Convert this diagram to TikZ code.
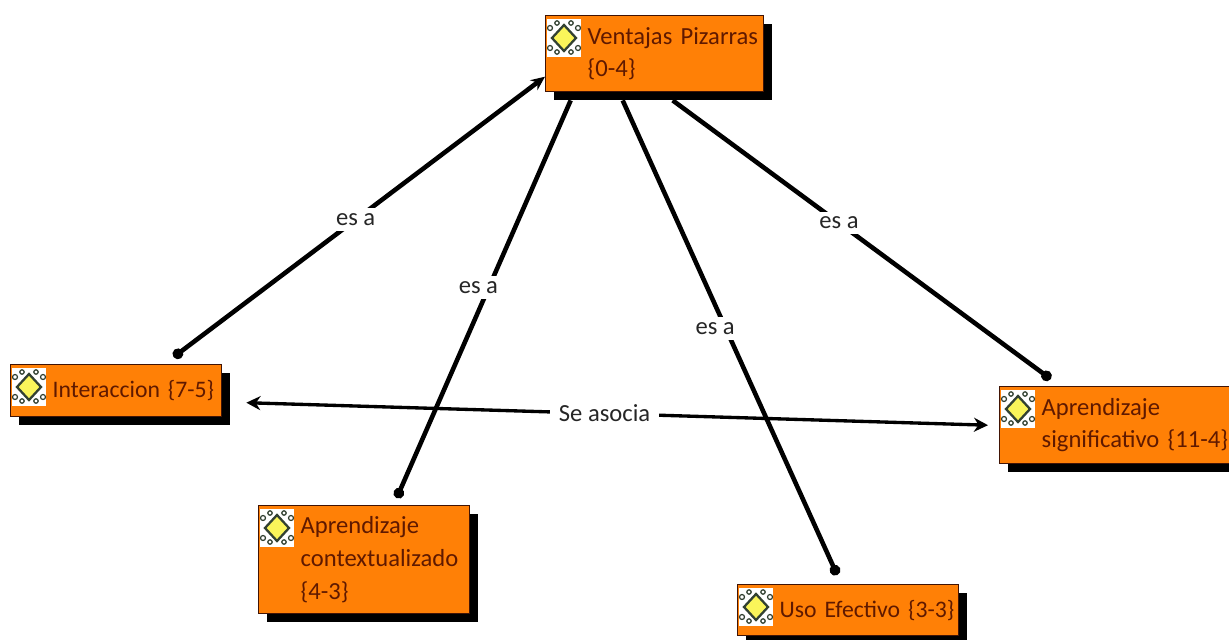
\documentclass[tikz,border=0pt]{standalone}
\usepackage{xcolor}
\usepackage{fontspec}
\setmainfont{Carlito}
\usetikzlibrary{arrows.meta, shadows}
\definecolor{naranja}{RGB}{255, 128, 6}
\definecolor{marron}{RGB}{65, 20, 5}
\definecolor{letra}{RGB}{95, 25, 0}
\definecolor{amarillo}{RGB}{250, 245, 90}
\definecolor{oscuro}{RGB}{50, 65, 50}

\begin{document}
\begin{tikzpicture}[
    x=0.02cm, y=0.02cm,
    concepto/.style={rectangle, draw=marron, line width=0.8pt, fill=naranja, anchor=north west, align=left, inner xsep=0pt, inner ysep=0pt, text=letra, font=\fontsize{14}{18.6}\selectfont, execute at begin node={\leftskip=0.84cm}, drop shadow={shadow xshift=0.16cm, shadow yshift=-0.16cm, fill=black, opacity=1}},
    enlace/.style={{Circle[length=6pt]}-, line width=2.6pt},
    flecha/.style={{Circle[length=6pt]}-{Stealth[length=8pt, width=7pt]}, line width=2.6pt},
    asocia/.style={{Stealth[length=8pt, width=8pt]}-{Stealth[length=8pt, width=8pt]}, line width=1.9pt},
    rotulo/.style={fill=white, inner xsep=3pt, inner ysep=3pt, text=black!85, font=\fontsize{14}{16}\selectfont},
    icono/.pic={
        \fill[white] (2,-4) rectangle (36,-42);
        \draw[oscuro, line width=0.7pt] (5,-13) circle (2.5) (33,-13) circle (2.5) (5,-33) circle (2.5) (33,-33) circle (2.5);
        \draw[oscuro, line width=0.7pt] (12,-8) circle (2.2) (26,-8) circle (2.2) (12,-37) circle (2.2) (26,-37) circle (2.2);
        \draw[oscuro, line width=1.3pt, fill=amarillo] (19,-10) -- (31,-23) -- (19,-36) -- (7,-23) -- cycle;
    }
]
    \useasboundingbox (0,0) rectangle (1229,-639);
    \clip (0,0) rectangle (1229,-639);

    \node[concepto, text width=4.36cm, minimum height=1.52cm] (ventajas) at (545,-15) {Ventajas Pizarras\\\{0-4\}};
    \node[concepto, text width=4.22cm, minimum height=1.04cm, font=\fontsize{13.5}{18.6}\selectfont] (interaccion) at (10,-364) {Interaccion \{7-5\}};
    \node[concepto, text width=4.72cm, minimum height=1.54cm] (significativo) at (999,-386) {Aprendizaje\\significativo \{11-4\}};
    \node[concepto, text width=4.22cm, minimum height=2.16cm] (contextualizado) at (258,-505) {Aprendizaje\\contextualizado\\\{4-3\}};
    \node[concepto, text width=4.42cm, minimum height=1.02cm, font=\fontsize{13.5}{18.6}\selectfont] (uso) at (737,-584) {Uso Efectivo \{3-3\}};

    \pic at (ventajas.north west) {icono};
    \pic at (interaccion.north west) {icono};
    \pic at (significativo.north west) {icono};
    \pic at (contextualizado.north west) {icono};
    \pic at (uso.north west) {icono};

    \draw[flecha] ([shift={(57.5,7)}]interaccion.north) -- node[rotulo, pos=.49] (esa1) {es a} ([shift={(0,-23)}]ventajas.west);
    \draw[enlace] ([shift={(32.5,7)}]contextualizado.north) -- node[rotulo, pos=.53, xshift=-6] (esa2) {es a} ([shift={(-84,-8)}]ventajas.south);
    \draw[enlace] ([shift={(-11,9)}]uso.north) -- node[rotulo, pos=.52, xshift=-6] (esa3) {es a} ([shift={(-32,-8)}]ventajas.south);
    \draw[enlace] ([shift={(-67,7)}]significativo.north) -- node[rotulo, pos=.56] (esa4) {es a} ([shift={(18,-8)}]ventajas.south);
    \draw[asocia] ([shift={(24,-12)}]interaccion.east) -- node[rotulo, pos=.483, inner xsep=5pt] (seasocia) {Se asocia} ([shift={(-11,0)}]significativo.west);
\end{tikzpicture}
\end{document}
